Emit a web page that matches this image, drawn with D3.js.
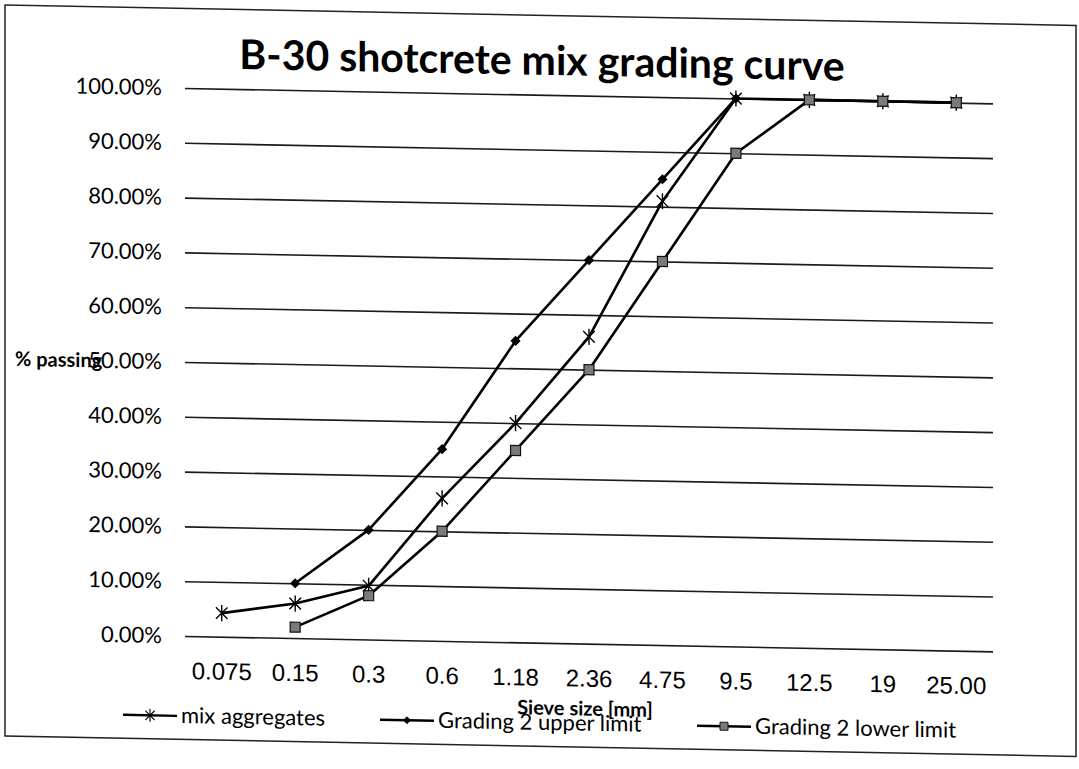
<!DOCTYPE html>
<html>
<head>
<meta charset="utf-8">
<script src="https://cdn.jsdelivr.net/npm/d3@7"></script>
<style>
  body { margin: 0; background: #fff; }
  text { fill: #000; }
</style>
</head>
<body>
<div id="chart"></div>
<script>
// data
const SIEVE_SIZES = ["0.075", "0.15", "0.3", "0.6", "1.18", "2.36", "4.75", "9.5", "12.5", "19", "25.00"];
const MIX_AGGREGATES = [4.3, 6.3, 9.8, 26, 40, 56, 81, 100, 100, 100, 100];
const UPPER_LIMIT = [null, 10, 20, 35, 55, 70, 85, 100, null, null, null];
const LOWER_LIMIT = [null, 2, 8, 20, 35, 50, 70, 90, 100, 100, 100];
const Y_TICKS = [0, 10, 20, 30, 40, 50, 60, 70, 80, 90, 100];
const SERIES_NAMES = ["mix aggregates", "Grading 2 upper limit", "Grading 2 lower limit"];

const CHART_WIDTH = 1079;
const CHART_HEIGHT = 769;
const PLOT = {left: 185, right: 993, top: 88, bottom: 636};
const SKEW = 1.09; // the scan is a little tilted, right side lower
const CALIBRI_LIKE = "Lato, 'Open Sans', sans-serif";

// excel style star marker: vertical bar plus an X
const symbolStar = {
  draw(ctx, size) {
    const r = Math.sqrt(size) / 2;
    const k = r * 0.72;
    ctx.moveTo(0, -r); ctx.lineTo(0, r);
    ctx.moveTo(-k, -k); ctx.lineTo(k, k);
    ctx.moveTo(-k, k); ctx.lineTo(k, -k);
  }
};

const markers = [
  {path: d3.symbol(symbolStar, 260)(), fill: "none", stroke: "#000", sw: 1.4, rotate: 0},
  {path: d3.symbol(d3.symbolSquare, 38)(), fill: "#000", stroke: "#000", sw: 1, rotate: 45},
  {path: d3.symbol(d3.symbolSquare, 100)(), fill: "#7a7a7a", stroke: "#111", sw: 1.2, rotate: 0}
];

const series = [MIX_AGGREGATES, UPPER_LIMIT, LOWER_LIMIT].map((values, i) => ({
  name: SERIES_NAMES[i],
  values: values.map((v, j) => ({size: SIEVE_SIZES[j], v: v})),
  marker: markers[i]
}));

var svg = d3.select("#chart")
  .append("svg")
  .attr("width", CHART_WIDTH)
  .attr("height", CHART_HEIGHT)
  .style("background", "#fff");

var chart = svg.append("g") // everything sits in a skewed group to mimic the scan
  .attr("transform", `translate(${PLOT.left},0) skewY(${SKEW}) translate(${-PLOT.left},0)`);

// outer chart border
chart.append("rect")
  .attr("x", 5).attr("y", 8.5)
  .attr("width", 1071).attr("height", 731)
  .attr("fill", "none")
  .attr("stroke", "#222")
  .attr("stroke-width", 1.5);

var x = d3.scaleBand()
  .domain(SIEVE_SIZES)
  .range([PLOT.left, PLOT.right]);

var y = d3.scaleLinear()
  .domain([0, 100])
  .range([PLOT.bottom, PLOT.top]);

const cx = (d) => x(d) + x.bandwidth() / 2;

// y axis with full width gridlines
chart.append("g")
  .attr("transform", `translate(${PLOT.left},0)`)
  .call(d3.axisLeft(y)
    .tickValues(Y_TICKS)
    .tickSize(-(PLOT.right - PLOT.left))
    .tickPadding(23)
    .tickFormat((d) => d.toFixed(2) + "%"))
  .call((g) => g.select(".domain").remove())
  .call((g) => g.selectAll("line").attr("stroke", "#1a1a1a").attr("stroke-width", 1.6))
  .call((g) => g.selectAll("text")
    .attr("font-family", CALIBRI_LIKE)
    .attr("font-size", 22)
    .attr("fill", "#000"));

// x axis, labels only
chart.append("g")
  .attr("transform", `translate(0,${PLOT.bottom})`)
  .call(d3.axisBottom(x).tickSize(0).tickPadding(26))
  .call((g) => g.select(".domain").remove())
  .call((g) => g.selectAll("text")
    .attr("font-family", "'Liberation Sans', Arial, sans-serif")
    .attr("font-size", 24)
    .attr("fill", "#000"));

var line = d3.line()
  .defined((d) => d.v != null)
  .x((d) => cx(d.size))
  .y((d) => y(d.v));

series.forEach((s) => {
  chart.append("path")
    .datum(s.values)
    .attr("fill", "none")
    .attr("stroke", "#000")
    .attr("stroke-width", 2.6)
    .attr("stroke-linejoin", "round")
    .attr("d", line);

  chart.append("g")
    .selectAll("path")
    .data(s.values.filter((d) => d.v != null))
    .join("path")
      .attr("transform", (d) => `translate(${cx(d.size)},${y(d.v)}) rotate(${s.marker.rotate})`)
      .attr("d", s.marker.path)
      .attr("fill", s.marker.fill)
      .attr("stroke", s.marker.stroke)
      .attr("stroke-width", s.marker.sw);
});

// title
chart.append("text")
  .attr("x", 542)
  .attr("y", 68)
  .attr("text-anchor", "middle")
  .attr("font-family", CALIBRI_LIKE)
  .attr("font-weight", "bold")
  .attr("font-size", 41)
  .text("B-30 shotcrete mix grading curve");

// axis titles (they overlap other text in the original too)
chart.append("text")
  .attr("x", 15)
  .attr("y", y(50) + 7)
  .attr("font-family", CALIBRI_LIKE)
  .attr("font-weight", "bold")
  .attr("font-size", 20)
  .text("% passing");

chart.append("text")
  .attr("x", 585)
  .attr("y", 708)
  .attr("text-anchor", "middle")
  .attr("font-family", CALIBRI_LIKE)
  .attr("font-weight", "bold")
  .attr("font-size", 20)
  .text("Sieve size [mm]");

// legend
const LEGEND_X = [123, 380, 697];
var legend = chart.append("g")
  .selectAll("g")
  .data(series)
  .join("g")
    .attr("transform", (d, i) => `translate(${LEGEND_X[i]},716)`);

legend.append("line")
  .attr("x1", 0).attr("x2", 54)
  .attr("stroke", "#000")
  .attr("stroke-width", 2.4);

legend.append("path")
  .attr("transform", (d) => `translate(27,0) rotate(${d.marker.rotate}) scale(0.8)`)
  .attr("d", (d) => d.marker.path)
  .attr("fill", (d) => d.marker.fill)
  .attr("stroke", (d) => d.marker.stroke)
  .attr("stroke-width", (d) => d.marker.sw);

legend.append("text")
  .attr("x", 58)
  .attr("y", 7)
  .attr("font-family", CALIBRI_LIKE)
  .attr("font-size", 22)
  .text((d) => d.name);
</script>
</body>
</html>
